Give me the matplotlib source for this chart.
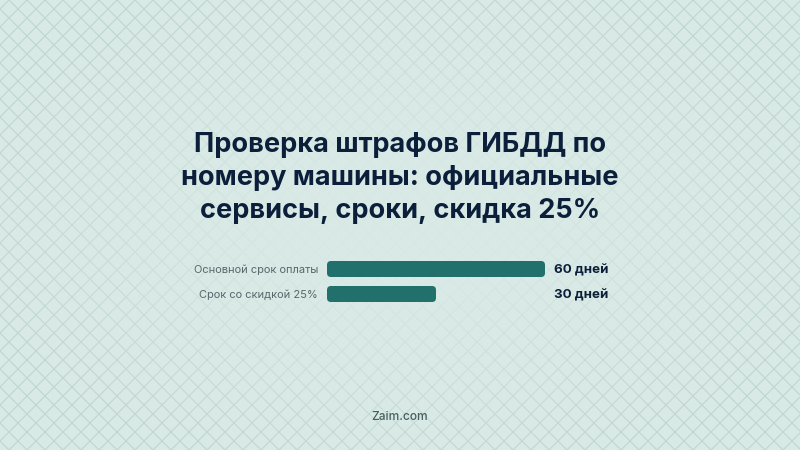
import numpy as np
import matplotlib.pyplot as plt
from matplotlib.patches import FancyBboxPatch

title_lines = ['Проверка штрафов ГИБДД по', 'номеру машины: официальные', 'сервисы, сроки, скидка 25%']
categories = ['Основной срок оплаты', 'Срок со скидкой 25%']
days = [60, 30]
day_labels = ['60 дней', '30 дней']

W, H = 800, 450
plt.rcParams['font.family'] = ['Inter', 'DejaVu Sans']

fig = plt.figure(figsize=(W / 100, H / 100), dpi=100)

# фон: диагональная сетка, к центру бледнеет
bg = fig.add_axes([0, 0, 1, 1])
px, py = np.meshgrid(np.arange(W) + 0.5, np.arange(H) + 0.5)
step = 18
d1 = np.abs(((px + py) % step) - step / 2)
d2 = np.abs(((px - py) % step) - step / 2)
line = np.clip(1.2 - np.minimum(d1, d2) / 1.1, 0, 1)
r = np.sqrt(((px - W / 2) / (W / 2)) ** 2 + ((py - H / 2) / (H / 2)) ** 2)
fade = np.clip((r - 0.3) / 0.8, 0, 1) * 0.75 + 0.06
base = np.array([217, 233, 229]) / 255
ink = np.array([186, 209, 204]) / 255
a = (line * fade)[..., None]
bg.imshow(base * (1 - a) + ink * a, aspect='auto', interpolation='nearest')
bg.axis('off')

for i, t in enumerate(title_lines):
    fig.text(0.5, 1 - (145 + i * 33) / H, t, ha='center', va='center',
             fontsize=19.5, fontweight='bold', color='#0b1f3a')

# полосы
ax = fig.add_axes([327 / W, 1 - 306.5 / H, 218 / W, 50 / H])
ax.set_xlim(0, 60)
ax.set_ylim(1.5, -0.5)
ax.axis('off')
xu = 60 / 218
yu = 2 / 50
bar_h = 16 * yu
rad = 4
for i, v in enumerate(days):
    p = FancyBboxPatch((rad * xu, i - bar_h / 2 + rad * yu), v - 2 * rad * xu, bar_h - 2 * rad * yu,
                       boxstyle=f'round,pad={rad * xu},rounding_size={rad * xu}',
                       mutation_aspect=yu / xu, fc='#22706b', ec='none')
    ax.add_patch(p)
    ax.annotate(categories[i], (0, i), xytext=(-9, -1), textcoords='offset pixels',
                ha='right', va='center', fontsize=7.95, color='#55686b', annotation_clip=False)
    ax.annotate(day_labels[i], (60, i), xytext=(9, -1.5), textcoords='offset pixels',
                ha='left', va='center', fontsize=9.6, fontweight='bold', color='#0b1f3a', annotation_clip=False)

fig.text(0.5, 1 - 417 / H, 'Zaim.com', ha='center', va='center', fontsize=8.6,
         fontweight='medium', color='#47605f')

fig.savefig('out.png', dpi=100)
